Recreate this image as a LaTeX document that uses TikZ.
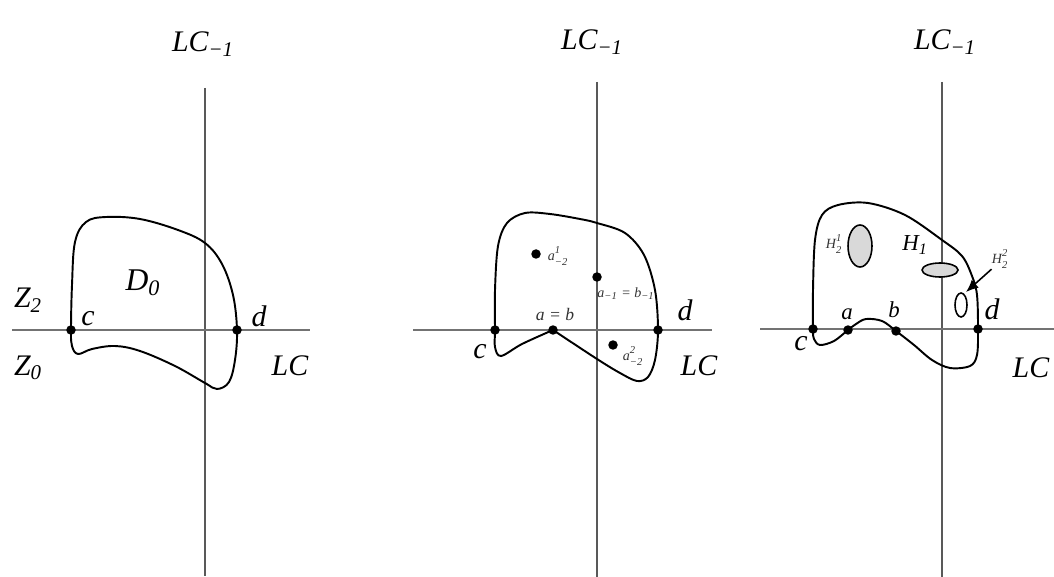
\documentclass[tikz,border=0pt]{standalone}
\usepackage{fontspec}
\setmainfont{Liberation Serif}
\usetikzlibrary{arrows.meta}
\newcommand{\SupSub}[2]{\rlap{\raisebox{0.2em}{\textsuperscript{#1}}}\raisebox{-0.2em}{\textsubscript{#2}}}

\begin{document}
\begin{tikzpicture}[
  x=0.02cm, y=-0.02cm,
  hline/.style={line width=1.6pt, color=black!55},
  vline/.style={line width=0.7pt, color=black!65},
  curve/.style={line width=1.1pt, color=black},
  pt/.style={circle, fill=black, inner sep=0pt, minimum size=0.19cm},
  big/.style={font=\fontsize{17}{19}\selectfont\itshape, inner sep=0pt},
  mid/.style={font=\fontsize{13}{15}\selectfont\itshape, inner sep=0pt},
  tiny/.style={font=\fontsize{8}{9}\selectfont\itshape, inner sep=0pt, text=black!80},
  hole/.style={draw, line width=0.9pt, fill=black!15},
  arr/.style={-{Latex[length=7pt, width=6pt]}, line width=0.9pt}
]
\useasboundingbox (0,0) rectangle (1054,577);

% left panel
\coordinate (c1) at (71,330);
\coordinate (d1) at (237,330);
\draw[vline] (205,88) -- (205,576);
\draw[hline] (12,330) -- (310,330);
\draw[curve] plot[smooth cycle, tension=0.6] coordinates {(c1) (72,285) (75,242) (86,222)
  (106,217) (140,219) (178,230) (205,243) (222,264) (233,295) (d1) (235,360) (229,382)
  (217,389) (205,383) (175,366) (140,351) (115,346) (92,349) (78,354) (72,346)};
\node[pt] (pc1) at (c1) {};
\node[pt] (pd1) at (d1) {};
\node[big] (lcm1) at (203,44) {LC\textsubscript{−1}};
\node[big] (z2) at (28,300) {Z\textsubscript{2}};
\node[big] (z0) at (28,368) {Z\textsubscript{0}};
\node[big] (lbc1) at (88,319) {c};
\node[big] (lbd1) at (259,316) {d};
\node[big, font=\fontsize{18}{20}\selectfont\itshape] (dzero) at (143,283) {D\textsubscript{0}};
\node[big] (lc1) at (290,366) {LC};

% middle panel
\coordinate (c2) at (495,330);
\coordinate (d2) at (658,330);
\coordinate (ab2) at (553,330);
\coordinate (am1) at (597,277);
\coordinate (a21) at (536,254);
\coordinate (a22) at (613,345);
\draw[vline] (597,82) -- (597,577);
\draw[hline] (413,330) -- (712,330);
\draw[curve] plot[smooth, tension=0.55] coordinates {(ab2) (522,344) (501,356) (495,347)
  (c2) (495,290) (498,246) (507,223) (525,213) (550,214) (580,219) (597,223) (625,233)
  (644,255) (655,290) (d2) (655,360) (648,377) (637,381) (620,373) (597,359) (ab2)};
\foreach \p in {c2, d2, ab2, am1, a21, a22}
  \node[pt] (p\p) at (\p) {};
\node[big] (lcm2) at (592,42) {LC\textsubscript{−1}};
\node[big] (lbc2) at (480,352) {c};
\node[big] (lbd2) at (685,310) {d};
\node[big] (lc2) at (699,366) {LC};
\node[tiny] (la21) at (558,256) {a\SupSub{1}{−2}};
\node[tiny] (lam1) at (626,294) {a\textsubscript{−1} = b\textsubscript{−1}};
\node[tiny, font=\fontsize{10}{12}\selectfont\itshape] (lab2) at (555,314) {a = b};
\node[tiny] (la22) at (633,356) {a\SupSub{2}{−2}};

% right panel
\coordinate (c3) at (813,329);
\coordinate (a3) at (848,330);
\coordinate (b3) at (896,331);
\coordinate (d3) at (978,329);
\coordinate (tip) at (966,292);
\draw[vline] (942,82) -- (942,577);
\draw[hline] (760,329) -- (1054,329);
\draw[curve] plot[smooth cycle, tension=0.55] coordinates {(c3) (813,290) (815,240) (822,215)
  (838,205) (868,203) (905,215) (942,240) (962,256) (972,276) (977,295) (d3) (977,355)
  (970,366) (950,368) (932,360) (914,345) (b3) (882,321) (866,319) (856,324) (a3)
  (834,341) (820,345) (814,339)};
\draw[hole] (860,246) ellipse [x radius=12, y radius=21];
\draw[hole] (940,270) ellipse [x radius=18, y radius=7];
\draw[hole, fill=white] (961,305) ellipse [x radius=6, y radius=12];
\foreach \p in {c3, a3, b3, d3}
  \node[pt] (p\p) at (\p) {};
\node[big] (lcm3) at (945,42) {LC\textsubscript{−1}};
\node[big] (lbc3) at (801,344) {c};
\node[mid] (lba3) at (847,314) {a};
\node[mid] (lbb3) at (894,310) {b};
\node[big] (lbd3) at (992,309) {d};
\node[big] (lc3) at (1031,368) {LC};
\node[tiny] (h21) at (834,244) {H\SupSub{1}{2}};
\node[mid] (h1) at (915,245) {H\textsubscript{1}};
\node[tiny] (h22) at (1000,259) {H\SupSub{2}{2}};
\draw[arr] (h22.south west) -- (tip);
\end{tikzpicture}
\end{document}
